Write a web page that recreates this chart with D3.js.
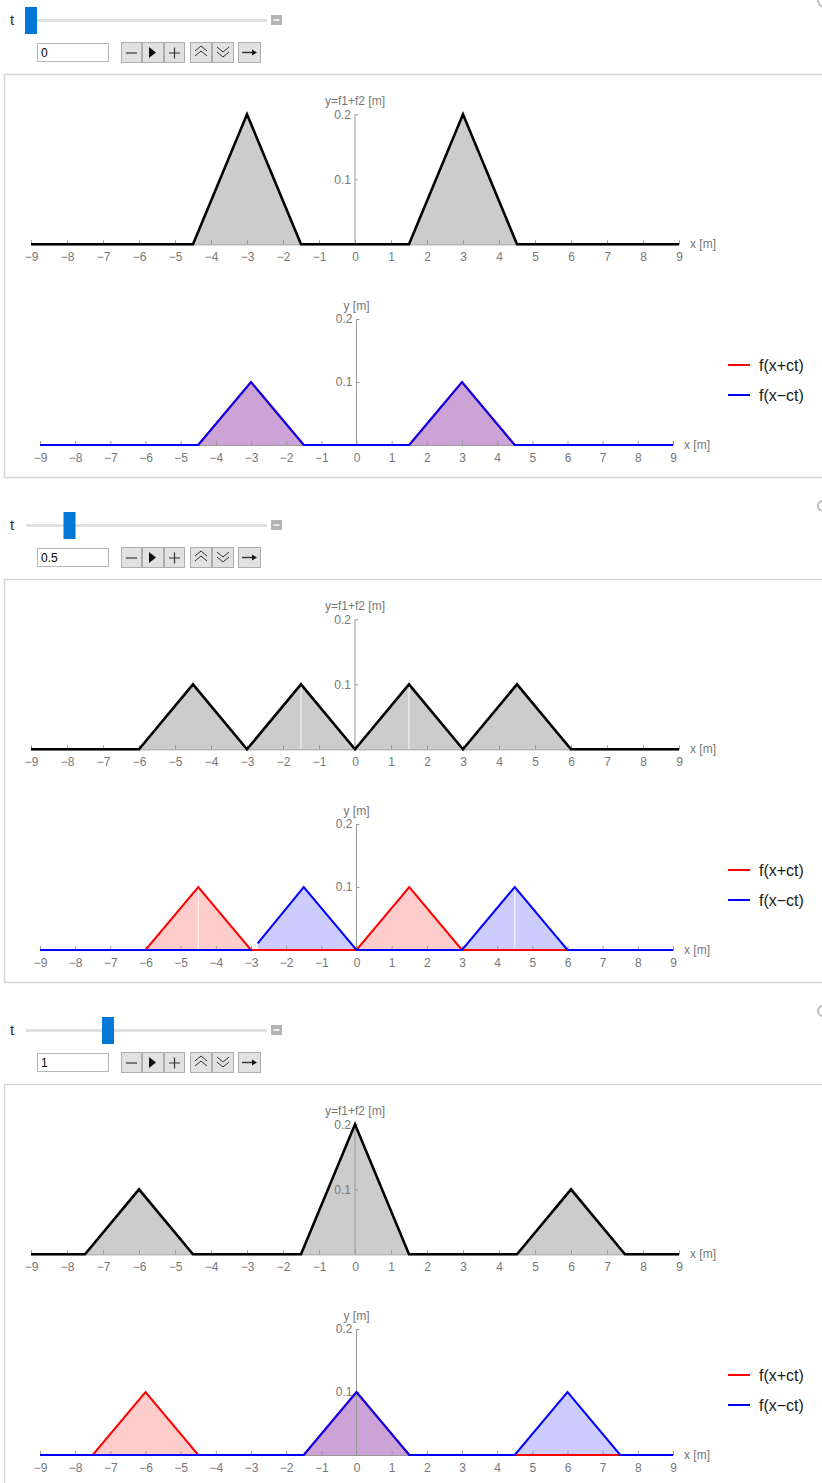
<!DOCTYPE html>
<html>
<head>
<meta charset="utf-8">
<script src="https://cdn.jsdelivr.net/npm/d3@7/dist/d3.min.js"></script>
<style>
  body { margin: 0; background: #fff; }
  svg { display: block; }
</style>
</head>
<body>
<div id="chart"></div>
<script>
// slider value of each Manipulate frame
const tValues = [0, 0.5, 1]

// y = f1 + f2, vertices [x, y] in metres
const sumSeries = [
  [[-9, 0], [-4.5, 0], [-3, 0.2], [-1.5, 0], [1.5, 0], [3, 0.2], [4.5, 0], [9, 0]],
  [[-9, 0], [-6, 0], [-4.5, 0.1], [-3, 0], [-1.5, 0.1], [0, 0], [1.5, 0.1], [3, 0], [4.5, 0.1], [6, 0], [9, 0]],
  [[-9, 0], [-7.5, 0], [-6, 0.1], [-4.5, 0], [-1.5, 0], [0, 0.2], [1.5, 0], [4.5, 0], [6, 0.1], [7.5, 0], [9, 0]]
]

// f(x+ct)
const plusSeries = [
  [[-9, 0], [-4.5, 0], [-3, 0.1], [-1.5, 0], [1.5, 0], [3, 0.1], [4.5, 0], [9, 0]],
  [[-9, 0], [-6, 0], [-4.5, 0.1], [-3, 0], [0, 0], [1.5, 0.1], [3, 0], [9, 0]],
  [[-9, 0], [-7.5, 0], [-6, 0.1], [-4.5, 0], [-1.5, 0], [0, 0.1], [1.5, 0], [9, 0]]
]

// f(x-ct), null = gap in the sampled curve
const minusSeries = [
  [[-9, 0], [-4.5, 0], [-3, 0.1], [-1.5, 0], [1.5, 0], [3, 0.1], [4.5, 0], [9, 0]],
  [[-9, 0], [-3, 0], null, [-2.81, 0.0106], [-1.5, 0.1], [0, 0], [3, 0], [4.5, 0.1], [6, 0], [9, 0]],
  [[-9, 0], [-1.5, 0], [0, 0.1], [1.5, 0], [4.5, 0], [6, 0.1], [7.5, 0], [9, 0]]
]

// thin white seams in the filling
const sumSeams = [[], [[-1.5, 0.1], [1.5, 0.1]], []]
const lowerSeams = [[], [[-4.5, 0.1], [4.5, 0.1]], []]

const xTicks = [-9, -8, -7, -6, -5, -4, -3, -2, -1, 0, 1, 2, 3, 4, 5, 6, 7, 8, 9]
const yTicks = [0.1, 0.2]
const legendLabels = ['f(x+ct)', 'f(x\u2212ct)']
const legendColors = ['#ff0000', '#0000ff']

const fullWidth = 822,
  fullHeight = 1483,
  panelStep = 505,
  font = '"Liberation Sans", Arial, sans-serif'

const svg = d3.select('#chart')
  .append('svg')
    .attr('width', fullWidth)
    .attr('height', fullHeight)
    .style('font-family', font)

tValues.forEach((t, i) => drawPanel(i, t))

function drawPanel (i, t) {
  const g = svg.append('g')
    .attr('transform', `translate(0, ${i * panelStep})`)

  drawControls(g, t)

  // frame
  g.append('rect')
    .attr('x', 4.5)
    .attr('y', 74.5)
    .attr('width', 840)
    .attr('height', 403)
    .attr('fill', 'none')
    .attr('stroke', '#d6d6d6')
    .attr('stroke-width', 1.5)

  // top plot: sum
  const xTop = d3.scaleLinear().domain([-9, 9]).range([31, 679])
  const yTop = d3.scaleLinear().domain([0, 0.2]).range([244.3, 114.3])
  const top = g.append('g')
  fillArea(top, sumSeries[i], xTop, yTop, '#000')
  seams(top, sumSeams[i], xTop, yTop)
  axes(top, xTop, yTop, 'y=f1+f2 [m]')
  curve(top, sumSeries[i], xTop, yTop, '#000', 2.6)

  // bottom plot: the two travelling pulses
  const xBot = d3.scaleLinear().domain([-9, 9]).range([40, 673])
  const yBot = d3.scaleLinear().domain([0, 0.2]).range([445, 319])
  const bot = g.append('g')
  fillArea(bot, plusSeries[i], xBot, yBot, legendColors[0])
  fillArea(bot, minusSeries[i], xBot, yBot, legendColors[1])
  seams(bot, lowerSeams[i], xBot, yBot)
  axes(bot, xBot, yBot, 'y [m]')
  curve(bot, plusSeries[i], xBot, yBot, legendColors[0], 2)
  curve(bot, minusSeries[i], xBot, yBot, legendColors[1], 2)

  // legend
  const leg = g.append('g')
    .selectAll('g')
    .data(legendLabels)
    .enter()
    .append('g')
      .attr('transform', (d, k) => `translate(728, ${365 + k * 30})`)
  leg.append('line')
    .attr('x2', 22)
    .attr('stroke', (d, k) => legendColors[k])
    .attr('stroke-width', 2)
  leg.append('text')
    .attr('x', 31)
    .attr('dy', '0.35em')
    .attr('font-size', 16)
    .attr('fill', '#1a1a1a')
    .text(d => d)
}

function fillArea (g, pts, x, y, color) {
  const area = d3.area()
    .defined(d => d !== null)
    .x(d => x(d[0]))
    .y0(y(0))
    .y1(d => y(d[1]))
  g.append('path')
    .attr('d', area(pts))
    .attr('fill', color)
    .attr('fill-opacity', 0.2)
}

function curve (g, pts, x, y, color, w) {
  const line = d3.line()
    .defined(d => d !== null)
    .x(d => x(d[0]))
    .y(d => y(d[1]))
  g.append('path')
    .attr('d', line(pts))
    .attr('fill', 'none')
    .attr('stroke', color)
    .attr('stroke-width', w)
    .attr('stroke-linejoin', 'miter')
}

function seams (g, list, x, y) {
  g.selectAll(null)
    .data(list)
    .enter()
    .append('line')
      .attr('x1', d => x(d[0]))
      .attr('x2', d => x(d[0]))
      .attr('y1', y(0))
      .attr('y2', d => y(d[1]) + 2)
      .attr('stroke', '#fff')
      .attr('stroke-width', 1)
      .attr('stroke-opacity', 0.9)
}

function axes (g, x, y, yLabel) {
  const x0 = x(0)
  const ax = g.append('g')
    .attr('transform', `translate(0, ${y(0)})`)
    .call(d3.axisBottom(x).tickValues(xTicks).tickSizeInner(-4).tickSizeOuter(0).tickPadding(8))
    .call(thinAxis)
  ax.append('text')
    .attr('x', x(9) + 11)
    .attr('y', 0)
    .attr('dy', '0.32em')
    .attr('fill', '#777')
    .attr('font-size', 12)
    .attr('text-anchor', 'start')
    .text('x [m]')

  const ay = g.append('g')
    .attr('transform', `translate(${x0}, 0)`)
    .call(d3.axisLeft(y).tickValues(yTicks).tickSizeInner(-3).tickSizeOuter(0).tickPadding(4).tickFormat(d3.format('.1f')))
    .call(thinAxis)
  ay.select('.domain').attr('d', `M0,${y(0)}V${y(0.2)}`)
  ay.append('text')
    .attr('x', 0)
    .attr('y', y(0.2) - 9)
    .attr('fill', '#777')
    .attr('font-size', 12)
    .attr('text-anchor', 'middle')
    .text(yLabel)
}

function thinAxis (g) {
  g.selectAll('.domain')
    .attr('stroke', '#999')
    .attr('stroke-width', 1)
  g.selectAll('.tick line')
    .attr('stroke', '#999')
  g.selectAll('.tick text')
    .attr('fill', '#777')
    .attr('font-size', 12)
    .attr('font-family', font)
}

function drawControls (g, t) {
  g.append('text')
    .attr('x', 10)
    .attr('y', 20)
    .attr('dy', '0.35em')
    .attr('font-size', 15)
    .attr('fill', '#333')
    .text('t')

  g.append('rect')
    .attr('x', 26).attr('y', 19)
    .attr('width', 241).attr('height', 3)
    .attr('fill', '#e0e0e0')

  g.append('rect')
    .attr('x', 25 + 77 * t).attr('y', 7)
    .attr('width', 12).attr('height', 27)
    .attr('fill', '#0078d7')

  g.append('rect')
    .attr('x', 271).attr('y', 15)
    .attr('width', 11).attr('height', 10)
    .attr('fill', '#b4b4b4')
  g.append('line')
    .attr('x1', 273.5).attr('x2', 279.5)
    .attr('y1', 20).attr('y2', 20)
    .attr('stroke', '#fff').attr('stroke-width', 1.5)

  // value box
  g.append('rect')
    .attr('x', 37.5).attr('y', 43.5)
    .attr('width', 71).attr('height', 18)
    .attr('fill', '#fff').attr('stroke', '#b8b8b8')
  g.append('text')
    .attr('x', 41).attr('y', 52.5)
    .attr('dy', '0.35em')
    .attr('font-size', 12)
    .attr('fill', '#000')
    .text(String(t))

  const buttons = [[121, 20], [142, 21], [164, 20], [190, 21], [212, 21], [238, 22]]
  buttons.forEach(b => {
    g.append('rect')
      .attr('x', b[0] + 0.5).attr('y', 42.5)
      .attr('width', b[1]).attr('height', 20)
      .attr('fill', '#e1e1e1').attr('stroke', '#adadad')
  })
  const ic = g.append('g')
    .attr('stroke', '#333').attr('fill', 'none').attr('stroke-width', 1.2)
  ic.append('path').attr('d', 'M126,53H137')
  ic.append('path').attr('d', 'M149,47L156,52.5L149,58Z').attr('fill', '#111').attr('stroke', 'none')
  ic.append('path').attr('d', 'M169,53H180M174.5,47.5V58.5')
  ic.append('path').attr('d', 'M195,51L201,46L207,51M195,56L201,51L207,56').attr('stroke-width', 1)
  ic.append('path').attr('d', 'M217,47L223,52L229,47M217,52L223,57L229,52').attr('stroke-width', 1)
  ic.append('path').attr('d', 'M242,52.5H254').attr('stroke-width', 1.4)
  ic.append('path').attr('d', 'M252,49.5L257,52.5L252,55.5Z').attr('fill', '#111').attr('stroke', 'none')

  // options gear stub at the right edge
  g.append('circle')
    .attr('cx', 823).attr('cy', 1)
    .attr('r', 5)
    .attr('fill', 'none')
    .attr('stroke', '#bbb')
    .attr('stroke-width', 2)
}
</script>
</body>
</html>
